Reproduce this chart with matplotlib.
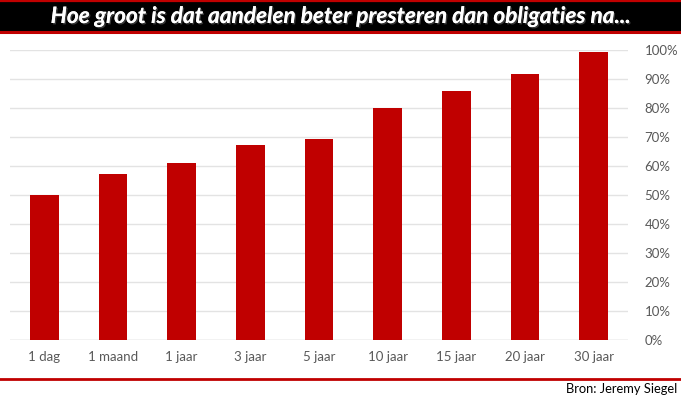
import matplotlib
matplotlib.use("Agg")
import matplotlib.pyplot as plt
import matplotlib.patheffects as pe
from matplotlib.patches import Rectangle
from matplotlib.lines import Line2D
from matplotlib.ticker import FuncFormatter, MultipleLocator

categories = ["1 dag", "1 maand", "1 jaar", "3 jaar", "5 jaar", "10 jaar", "15 jaar", "20 jaar", "30 jaar"]
values = [50.0, 57.3, 61.1, 67.3, 69.4, 80.1, 86.0, 91.8, 99.4]
title = "Hoe groot is dat aandelen beter presteren dan obligaties na..."
source = "Bron: Jeremy Siegel"

RED = "#C00000"
W, H = 681, 399
fig = plt.figure(figsize=(W / 100, H / 100), dpi=100)
fig.patch.set_facecolor("white")

# title bar
fig.patches.append(Rectangle((0, 1 - 32 / H), 1, 32 / H, transform=fig.transFigure,
                             facecolor="black", edgecolor="none", zorder=1))
fig.add_artist(Line2D([0, 1], [1 - 0.8 / H, 1 - 0.8 / H], transform=fig.transFigure, color=RED, lw=1.6))
fig.add_artist(Line2D([0, 1], [1 - 32 / H, 1 - 32 / H], transform=fig.transFigure, color=RED, lw=2.2))
t = fig.text(0.5, 1 - 16.5 / H, title, ha="center", va="center", color="white",
             fontsize=16.3, fontweight="bold", fontstyle="italic", family=["Lato", "DejaVu Sans"])
t.set_path_effects([pe.withSimplePatchShadow(offset=(1, -1), shadow_rgbFace="#404040", alpha=0.9), pe.Normal()])

# bottom line and source
fig.add_artist(Line2D([0, 1], [1 - 379 / H, 1 - 379 / H], transform=fig.transFigure, color=RED, lw=2.0))
fig.text(677 / W, 1 - 389 / H, source, ha="right", va="center", color="black",
         fontsize=9.3, family=["Lato", "DejaVu Sans"])

ax = fig.add_axes([10 / W, 1 - 340 / H, (628 - 10) / W, (340 - 50) / H])
x = list(range(len(categories)))
ax.bar(x, values, width=0.42, color=RED, zorder=3)
ax.set_xlim(-0.5, len(categories) - 0.5)
ax.set_ylim(0, 100)
ax.yaxis.set_major_locator(MultipleLocator(10))
ax.yaxis.set_major_formatter(FuncFormatter(lambda v, p: f"{int(round(v))}%"))
ax.yaxis.tick_right()
ax.grid(axis="y", color="#E3E3E3", lw=1, zorder=0)
for s in ax.spines.values():
    s.set_visible(False)
ax.axhline(0, color="#D9D9D9", lw=1, zorder=2)
ax.set_xticks(x)
ax.set_xticklabels(categories)
ax.tick_params(axis="both", length=0, labelcolor="#595959", labelsize=9.5)
ax.tick_params(axis="x", pad=8)
ax.tick_params(axis="y", pad=12)
for lab in ax.get_xticklabels() + ax.get_yticklabels():
    lab.set_family(["Lato", "DejaVu Sans"])

fig.savefig("out.png", dpi=100, facecolor="white")
